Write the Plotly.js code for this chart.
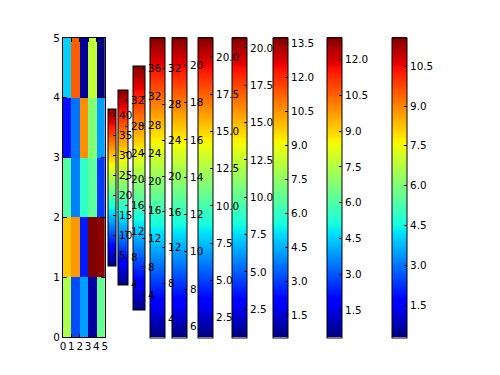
<!DOCTYPE html>
<html>
<head>
<meta charset="utf-8">
<script src="https://cdn.plot.ly/plotly-3.0.1.min.js"></script>
<style>html,body{margin:0;padding:0;background:#fff;}#chart{width:500px;height:375px;}</style>
</head>
<body>
<div id="chart"></div>
<script>
// ---- data ----
var xCenters = [0.5, 1.5, 2.5, 3.5, 4.5];
var yCenters = [0.5, 1.5, 2.5, 3.5, 4.5];
var row0 = [0.56, 0.20, 0.28, 0.03, 0.47];
var row1 = [0.70, 0.75, 0.15, 1.00, 0.99];
var row2 = [0.45, 0.25, 0.41, 0.46, 0.18];
var row3 = [0.14, 0.24, 0.76, 0.51, 0.28];
var row4 = [0.33, 0.81, 0.02, 0.58, 0.00];
var axisTicks = [0, 1, 2, 3, 4, 5];

// colorbar ranges (left to right)
var cbMin  = [2.33, 3.85, 2.0, 1.97, 5.4, 1.17, 0.61, 0.51, 0.35, 0.28];
var cbMax  = [41.5, 33.6, 36.4, 35.5, 21.5, 21.3, 20.7, 13.75, 12.92, 11.58];
var cbStep = [5, 4, 4, 4, 2, 2.5, 2.5, 1.5, 1.5, 1.5];
var cbFmt  = ['d', 'd', 'd', 'd', 'd', '.1f', '.1f', '.1f', '.1f', '.1f'];

// ---- layout geometry (pixels) ----
var W = 500, H = 375, ML = 62.5, MT = 37.5, MB = 37.5, MR = 0;
var axRight = 104.3;
var areaW = W - ML - MR;
var cbLeft  = [106.7, 117.3, 132, 148.7, 170.7, 197.3, 231.3, 272.7, 326, 391.7];
var cbThick = [7.8, 9.8, 12.2, 15, 15, 15, 15, 15, 15, 15];
var cbLen   = [156.7, 195.3, 243.6, 300, 300, 300, 300, 300, 300, 300];

// matplotlib jet
var jet = [
  [0, 'rgb(0,0,128)'], [0.11, 'rgb(0,0,255)'], [0.125, 'rgb(0,0,255)'],
  [0.34, 'rgb(0,219,255)'], [0.35, 'rgb(0,230,247)'], [0.375, 'rgb(21,255,226)'],
  [0.64, 'rgb(239,255,8)'], [0.65, 'rgb(247,245,0)'], [0.66, 'rgb(255,236,0)'],
  [0.89, 'rgb(255,19,0)'], [0.91, 'rgb(232,0,0)'], [1, 'rgb(128,0,0)']
];
var fnt = {family: 'DejaVu Sans, sans-serif', size: 10.4, color: '#000'};

var traces = [{
  type: 'heatmap', x: xCenters, y: yCenters,
  z: [row0, row1, row2, row3, row4],
  zmin: 0, zmax: 1, colorscale: jet, showscale: false, hoverinfo: 'skip'
}];

// add colorbars rightmost first so the leftmost is drawn on top
for (var i = cbMin.length - 1; i >= 0; i--) {
  traces.push({
    type: 'scatter', mode: 'markers', x: [null, null], y: [null, null],
    hoverinfo: 'skip', showlegend: false,
    marker: {
      color: [cbMin[i], cbMax[i]], cmin: cbMin[i], cmax: cbMax[i],
      colorscale: jet, showscale: true,
      colorbar: {
        x: (cbLeft[i] + 0.5 - ML) / areaW, xanchor: 'left', xpad: 0,
        y: 0.5, yanchor: 'middle', ypad: 0,
        thicknessmode: 'pixels', thickness: cbThick[i],
        lenmode: 'pixels', len: cbLen[i],
        outlinewidth: 1, outlinecolor: '#000', borderwidth: 0,
        ticks: 'inside', ticklen: 3.5, tickwidth: 1, tickcolor: '#000',
        tickmode: 'linear', tick0: 0, dtick: cbStep[i],
        tickformat: cbFmt[i], tickfont: fnt
      }
    }
  });
}

var layout = {
  width: W, height: H,
  paper_bgcolor: '#fff', plot_bgcolor: '#fff',
  margin: {l: ML, r: MR, t: MT, b: MB, pad: 0, autoexpand: false},
  font: fnt,
  showlegend: false,
  xaxis: {
    domain: [0, (axRight - ML) / areaW],
    range: [0, 5], tickvals: axisTicks, ticktext: axisTicks.map(String),
    tickangle: 0,
    showgrid: false, zeroline: false, showline: true, mirror: 'ticks',
    linecolor: '#000', linewidth: 1, ticks: 'inside', ticklen: 3.5,
    tickcolor: '#000', tickfont: fnt, fixedrange: true
  },
  yaxis: {
    range: [0, 5], tickvals: axisTicks, ticktext: axisTicks.map(String),
    showgrid: false, zeroline: false, showline: true, mirror: 'ticks',
    linecolor: '#000', linewidth: 1, ticks: 'inside', ticklen: 3.5,
    tickcolor: '#000', tickfont: fnt, fixedrange: true
  }
};

Plotly.newPlot('chart', traces, layout, {staticPlot: true, displayModeBar: false});
</script>
</body>
</html>
